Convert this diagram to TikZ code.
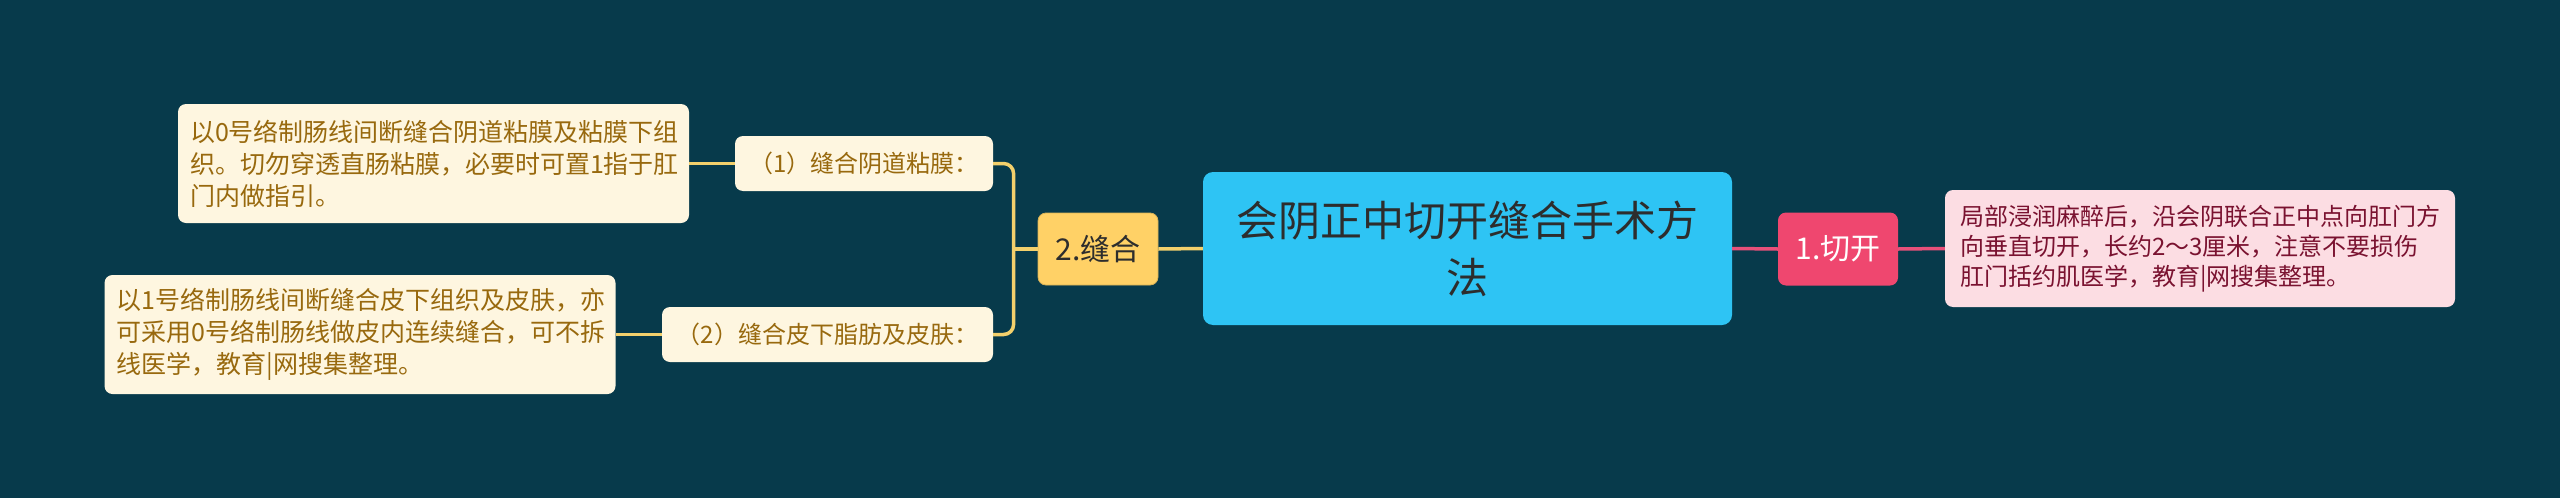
\documentclass[tikz,border=0pt]{standalone}
\usepackage{fontspec}
\setmainfont{Noto Sans CJK SC}
\usetikzlibrary{calc}
\definecolor{bgc}{HTML}{073A4B}
\definecolor{rootc}{HTML}{2EC4F4}
\definecolor{roottxt}{HTML}{2D2D2D}
\definecolor{ylwc}{HTML}{FFD166}
\definecolor{pinkc}{HTML}{EF476F}
\definecolor{leafy}{HTML}{FEF6E0}
\definecolor{leafytxt}{HTML}{98690E}
\definecolor{leafp}{HTML}{FCDDE3}
\definecolor{leafptxt}{HTML}{7A1230}
\definecolor{lny}{HTML}{F3D06C}
\definecolor{lnp}{HTML}{E8507A}
\tikzset{
  box/.style={rounded corners=8pt, inner sep=0pt, anchor=center},
  rootbox/.style={box, rounded corners=10pt, fill=rootc, text=roottxt,
    minimum width=529pt, minimum height=153pt, align=center,
    font=\fontsize{42pt}{57pt}\selectfont},
  yellowbox/.style={box, fill=ylwc, draw=ylwc!85!black, line width=0.8pt, text=roottxt,
    minimum width=120pt, minimum height=72pt, font=\fontsize{30pt}{36pt}\selectfont},
  pinkbox/.style={box, fill=pinkc, text=white,
    minimum width=120pt, minimum height=73pt, font=\fontsize{30pt}{36pt}\selectfont},
  midbox/.style={box, fill=leafy, text=leafytxt,
    minimum height=55pt, font=\fontsize{24pt}{30pt}\selectfont},
  leafbox/.style={box, fill=leafy, text=leafytxt, inner xsep=12pt,
    text width=487pt, align=left, minimum height=119pt,
    font=\fontsize{25pt}{32pt}\selectfont},
  pleafbox/.style={box, fill=leafp, text=leafptxt, inner xsep=15pt,
    text width=480pt, align=left, minimum height=117pt,
    font=\fontsize{24pt}{30pt}\selectfont},
  yline/.style={draw=lny, line width=3.5pt},
  pline/.style={draw=lnp, line width=3.5pt}
}
\begin{document}
\begin{tikzpicture}[x=1pt,y=-1pt]
\fill[bgc] (0,0) rectangle (2560,498);
\useasboundingbox (0,0) rectangle (2560,498);

\node[rootbox] (root) at (1467.5,248.5) {会阴正中切开缝合手术方\\法};
\node[yellowbox] (feng) at (1098,249) {2.缝合};
\node[pinkbox] (qk) at (1838,249) {1.切开};
\node[pleafbox] (pleaf) at (2200,248.5) {局部浸润麻醉后，沿会阴联合正中点向肛门方\\向垂直切开，长约2～3厘米，注意不要损伤\\肛门括约肌医学，教育|网搜集整理。};
\node[midbox, minimum width=258pt] (n1) at (864,163.5) {（1）缝合阴道粘膜：};
\node[midbox, minimum width=331pt] (n2) at (827.5,334.5) {（2）缝合皮下脂肪及皮肤：};
\node[leafbox] (leaf1) at (433.5,163.5) {以0号络制肠线间断缝合阴道粘膜及粘膜下组\\织。切勿穿透直肠粘膜，必要时可置1指于肛\\门内做指引。};
\node[leafbox] (leaf2) at (360,334.5) {以1号络制肠线间断缝合皮下组织及皮肤，亦\\可采用0号络制肠线做皮内连续缝合，可不拆\\线医学，教育|网搜集整理。};

\coordinate (fj) at ($(feng.west)+(-24,0)$);
\draw[yline] (root.west) -- (feng.east);
\draw[yline] (feng.west) -- (fj);
\draw[yline, rounded corners=10pt] (n1.east) -| (fj) |- (n2.east);
\draw[yline] (n1.west) -- (leaf1.east);
\draw[yline] (n2.west) -- (leaf2.east);
\draw[pline] (root.east) -- (qk.west);
\draw[pline] (qk.east) -- (pleaf.west);
\end{tikzpicture}
\end{document}
